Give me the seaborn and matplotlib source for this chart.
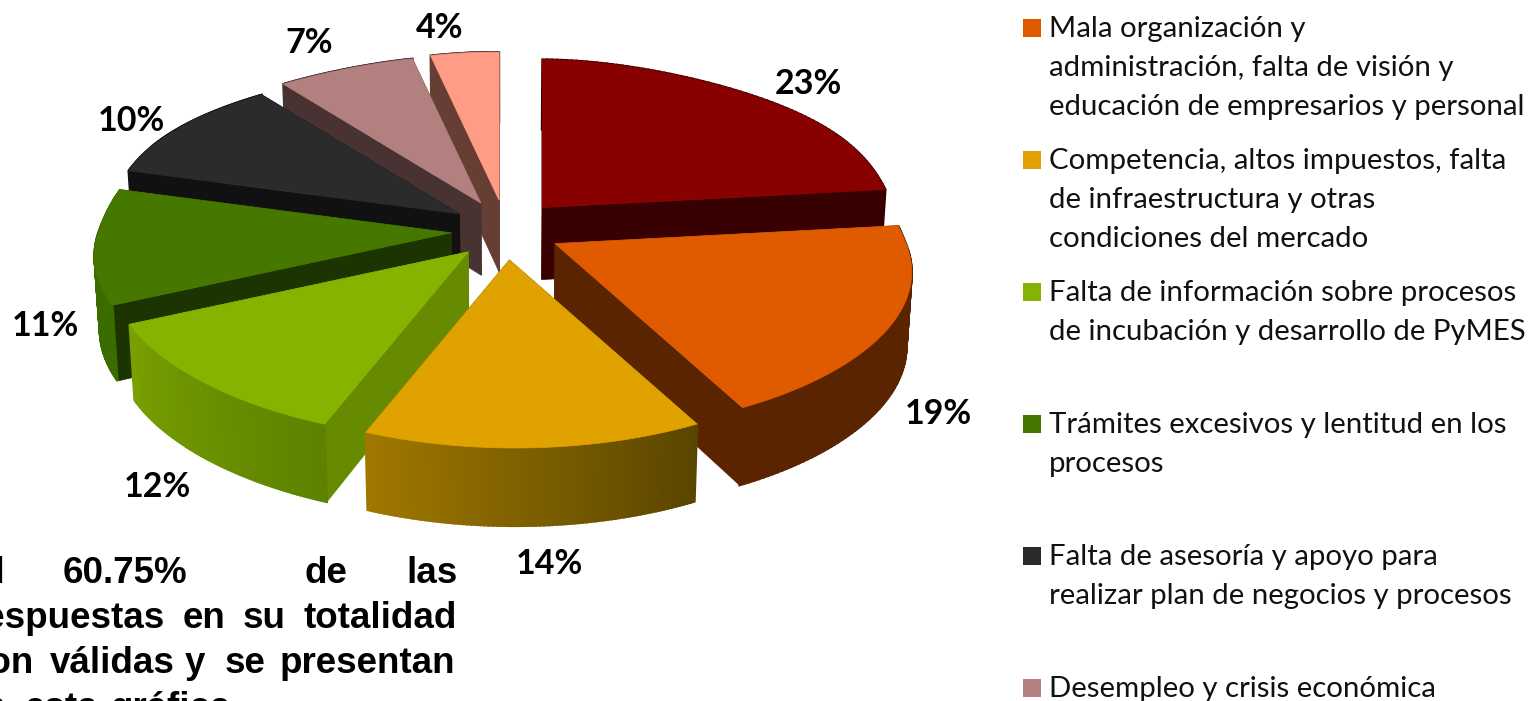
# Pie chart (exploded, with 3D look) plus side legend and justified note

import numpy as np
import pandas as pd
import seaborn as sns
import matplotlib.pyplot as plt
from matplotlib.colors import to_rgb

values = [23, 19, 14, 12, 11, 10, 7, 4]
pct_labels = ["23%", "19%", "14%", "12%", "11%", "10%", "7%", "4%"]
top_colors = ["#880000", "#E05A00", "#E0A200", "#86B200", "#467800", "#2B2B2B", "#B38080", "#FF9C85"]
face_colors = ["#380000", "#5A2400", "#5A4500", "#668A00", "#1C3400", "#111111", "#483232", "#673E33"]
# outer wall colour at start and end of each slice
wall_start = ["#380000", "#5A2400", "#5A4500", "#5C8200", "#3A6C00", "#111111", "#483232", "#673E33"]
wall_end = ["#380000", "#5A2400", "#A07800", "#78A000", "#3A6C00", "#111111", "#483232", "#673E33"]

legend_items = [
    ["Mala organización y", "administración, falta de visión y", "educación de empresarios y personal"],
    ["Competencia, altos impuestos, falta", "de infraestructura y otras", "condiciones del mercado"],
    ["Falta de información sobre procesos", "de incubación y desarrollo de PyMES"],
    ["Trámites excesivos y lentitud en los", "procesos"],
    ["Falta de asesoría y apoyo para", "realizar plan de negocios y procesos"],
    ["Desempleo y crisis económica"],
]
legend_colors = top_colors[1:7]

# pixel layout of the picture
cx, cy = 506, 230
label_xy = [(808, 84), (938, 414), (549, 564), (157, 487), (45, 326), (131, 121), (309, 43), (440, 28)]
legend_y = [28, 160, 292, 424, 556, 688]
line_h = 39


def project(t, r=1.0):
    # t clockwise from top, r=1 on the rim; gives offset from slice apex
    c = np.cos(t)
    back = np.where(c > 0, 140 * c ** 2 * (1 - c), 0)
    dx = r * np.sin(t) * (352 - 62 * c - 22 * c ** 2 + back)
    dy = -r * (168 * c - 20 * c ** 2) + 0.008 * dx
    return dx, dy


def wall_down(x, y, depth):
    # walls get slightly narrower towards the bottom
    return x - 0.013 * (x - cx), y + depth


sns.set_theme(style="white")
fig = plt.figure(figsize=(15.34, 7.01), dpi=100)
ax = fig.add_axes([0, 0, 1, 1])

edges = np.cumsum([0] + values) / sum(values) * 2 * np.pi
mids = (edges[:-1] + edges[1:]) / 2

# back to front
for i in [7, 6, 0, 5, 4, 1, 3, 2]:
    ax_x = cx + 55 * np.sin(mids[i])
    ax_y = cy - 30 * np.cos(mids[i])
    ts = np.linspace(edges[i], edges[i + 1], 80)
    dx, dy = project(ts)
    rim_x, rim_y = ax_x + dx, ax_y + dy
    depth = 74 - 4 * np.cos(ts)

    # the two cut faces
    for k in [0, -1]:
        bx, by = wall_down(rim_x[k], rim_y[k], depth[k])
        ax2, ay2 = wall_down(ax_x, ax_y, 72)
        ax.fill([ax_x, rim_x[k], bx, ax2], [ax_y, rim_y[k], by, ay2], color=face_colors[i], lw=0.5)

    # rim wall, split up so it can carry the gradient
    c0, c1 = np.array(to_rgb(wall_start[i])), np.array(to_rgb(wall_end[i]))
    low_x, low_y = wall_down(rim_x, rim_y, depth)
    for k in range(len(ts) - 1):
        col = c0 + (c1 - c0) * k / (len(ts) - 2)
        ax.fill([rim_x[k], rim_x[k + 1], low_x[k + 1], low_x[k]],
                [rim_y[k], rim_y[k + 1], low_y[k + 1], low_y[k]], color=col, lw=1.6)

    # top surface
    ax.fill(np.r_[ax_x, rim_x], np.r_[ax_y, rim_y], color=top_colors[i], lw=0.5)

for lab, (x, y) in zip(pct_labels, label_xy):
    ax.text(x, y, lab, ha="center", va="center", fontsize=24.5, fontweight="bold", family="Lato", color="black")

# legend
swatches = pd.DataFrame({"x": [1032] * 6, "y": legend_y, "item": [r[0] for r in legend_items]})
sns.scatterplot(data=swatches, x="x", y="y", hue="item", palette=legend_colors, marker="s", s=169,
                linewidth=0, legend=False, ax=ax)
for rows, y in zip(legend_items, legend_y):
    for n, line in enumerate(rows):
        ax.text(1049, y + n * line_h + 9, line, ha="left", va="baseline", fontsize=21.2, family="Lato", color="#111111")

# justified note, cut off by the picture edge like the original
note_words = [
    ("El", 5, 583, "right"), ("60.75%", 63, 583, "left"), ("de", 305, 583, "left"), ("las", 406, 583, "left"),
    ("respuestas", 165, 628, "right"), ("en", 183, 628, "left"), ("su", 243, 628, "left"), ("totalidad", 303, 628, "left"),
    ("son", 34, 673, "right"), ("válidas", 50, 673, "left"), ("y", 185, 673, "left"), ("se", 225, 673, "left"), ("presentan", 280, 673, "left"),
    ("en", 6, 718, "right"), ("esta", 25, 718, "left"), ("gráfica", 110, 718, "left"),
]
for word, x, y, ha in note_words:
    ax.text(x, y, word, ha=ha, va="baseline", fontsize=26.5, fontweight="bold", family="Liberation Sans", color="black")

ax.set_xlim(0, 1534)
ax.set_ylim(701, 0)
ax.axis("off")

plt.savefig("out.png", dpi=100)
